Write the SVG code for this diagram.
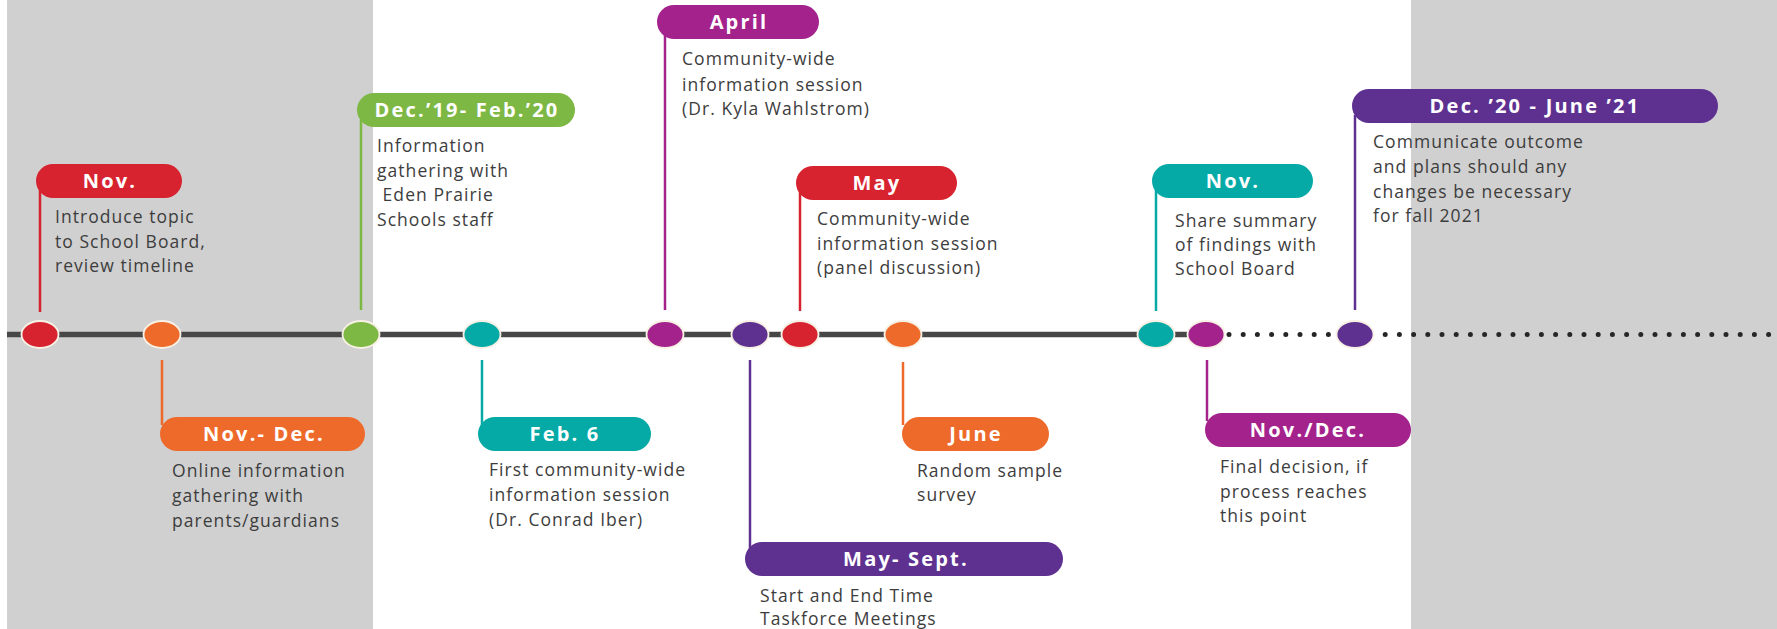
<svg xmlns="http://www.w3.org/2000/svg" width="1777" height="629" viewBox="0 0 1777 629">
<style>
.bg{fill:#d0d0d0}
.line{stroke:#474747;stroke-width:5.5;fill:none}
.dots{stroke:#262626;stroke-width:5;stroke-linecap:round;stroke-dasharray:0 14.2;fill:none}
.stem{stroke-width:2.5;fill:none}
.dot{stroke:#f7f0e4;stroke-width:1.8}
.pl{font-family:"Open Sans","Liberation Sans",sans-serif;font-weight:700;font-size:20px;fill:#fff;text-anchor:middle;letter-spacing:2.2px}
.ds{font-family:"Open Sans","Liberation Sans",sans-serif;font-size:17.5px;fill:#3d3d3d;letter-spacing:1.05px}
.red{fill:#d7232f}.s-red{stroke:#d7232f}
.org{fill:#ee6a2b}.s-org{stroke:#ee6a2b}
.grn{fill:#7db744}.s-grn{stroke:#7db744}
.teal{fill:#05aaa6}.s-teal{stroke:#05aaa6}
.mag{fill:#a4228c}.s-mag{stroke:#a4228c}
.pur{fill:#5e3191}.s-pur{stroke:#5e3191}
</style>
<rect width="1777" height="629" fill="#ffffff"/>
<rect class="bg" x="7" y="0" width="366" height="629"/>
<rect class="bg" x="1411" y="0" width="366" height="629"/>

<g id="connectors">
<line class="line" x1="7" y1="334.5" x2="1206" y2="334.5"/>
<line class="dots" x1="1229" y1="334.5" x2="1777" y2="334.5"/>
<line class="stem s-red" x1="40" y1="190" x2="40" y2="312"/>
<line class="stem s-org" x1="162" y1="360" x2="162" y2="425"/>
<line class="stem s-grn" x1="361" y1="120" x2="361" y2="310"/>
<line class="stem s-teal" x1="482" y1="360" x2="482" y2="425"/>
<line class="stem s-mag" x1="665" y1="30" x2="665" y2="310"/>
<line class="stem s-pur" x1="750" y1="360" x2="750" y2="550"/>
<line class="stem s-red" x1="800" y1="192" x2="800" y2="311"/>
<line class="stem s-org" x1="903" y1="362" x2="903" y2="425"/>
<line class="stem s-teal" x1="1156" y1="190" x2="1156" y2="311"/>
<line class="stem s-mag" x1="1207" y1="360" x2="1207" y2="421"/>
<line class="stem s-pur" x1="1355" y1="115" x2="1355" y2="310"/>
</g>

<g id="n1">
<ellipse class="dot red" cx="40" cy="334.5" rx="18.5" ry="13.5"/>
<rect class="red" x="36" y="164" width="146" height="34" rx="17"/>
<text class="pl" x="110" y="188">Nov.</text>
<text class="ds" x="55"><tspan x="55" y="223">Introduce topic</tspan><tspan x="55" y="247.5">to School Board,</tspan><tspan x="55" y="271.5">review timeline</tspan></text>
</g>

<g id="n2">
<ellipse class="dot org" cx="162" cy="334.5" rx="18.5" ry="13.5"/>
<rect class="org" x="160" y="417" width="205" height="34" rx="17"/>
<text class="pl" x="264" y="441">Nov.- Dec.</text>
<text class="ds" x="172"><tspan x="172" y="477">Online information</tspan><tspan x="172" y="502">gathering with</tspan><tspan x="172" y="527">parents/guardians</tspan></text>
</g>

<g id="n3">
<ellipse class="dot grn" cx="361" cy="334.5" rx="18.5" ry="13.5"/>
<rect class="grn" x="357" y="93" width="218" height="34" rx="17"/>
<text class="pl" x="467" y="117">Dec.’19- Feb.’20</text>
<text class="ds" x="377"><tspan x="377" y="152">Information</tspan><tspan x="377" y="176.5">gathering with</tspan><tspan x="377" y="201"> Eden Prairie</tspan><tspan x="377" y="225.5">Schools staff</tspan></text>
</g>

<g id="n4">
<ellipse class="dot teal" cx="482" cy="334.5" rx="18.5" ry="13.5"/>
<rect class="teal" x="478" y="417" width="173" height="34" rx="17"/>
<text class="pl" x="565" y="441">Feb. 6</text>
<text class="ds" x="489"><tspan x="489" y="476">First community-wide</tspan><tspan x="489" y="501">information session</tspan><tspan x="489" y="526">(Dr. Conrad Iber)</tspan></text>
</g>

<g id="n5">
<ellipse class="dot mag" cx="665" cy="334.5" rx="18.5" ry="13.5"/>
<rect class="mag" x="657" y="5" width="162" height="34" rx="17"/>
<text class="pl" x="739" y="29">April</text>
<text class="ds" x="682"><tspan x="682" y="65">Community-wide</tspan><tspan x="682" y="90.5">information session</tspan><tspan x="682" y="115">(Dr. Kyla Wahlstrom)</tspan></text>
</g>

<g id="n6">
<ellipse class="dot pur" cx="750" cy="334.5" rx="18.5" ry="13.5"/>
<rect class="pur" x="745" y="542" width="318" height="34" rx="17"/>
<text class="pl" x="906" y="566">May- Sept.</text>
<text class="ds" x="760"><tspan x="760" y="601.5">Start and End Time</tspan><tspan x="760" y="625">Taskforce Meetings</tspan></text>
</g>

<g id="n7">
<ellipse class="dot red" cx="800" cy="334.5" rx="18.5" ry="13.5"/>
<rect class="red" x="796" y="166" width="161" height="34" rx="17"/>
<text class="pl" x="877" y="190">May</text>
<text class="ds" x="817"><tspan x="817" y="225">Community-wide</tspan><tspan x="817" y="249.5">information session</tspan><tspan x="817" y="273.5">(panel discussion)</tspan></text>
</g>

<g id="n8">
<ellipse class="dot org" cx="903" cy="334.5" rx="18.5" ry="13.5"/>
<rect class="org" x="902" y="417" width="147" height="34" rx="17"/>
<text class="pl" x="976" y="441">June</text>
<text class="ds" x="917"><tspan x="917" y="477">Random sample</tspan><tspan x="917" y="501">survey</tspan></text>
</g>

<g id="n9">
<ellipse class="dot teal" cx="1156" cy="334.5" rx="18.5" ry="13.5"/>
<rect class="teal" x="1152" y="164" width="161" height="34" rx="17"/>
<text class="pl" x="1233" y="188">Nov.</text>
<text class="ds" x="1175"><tspan x="1175" y="227">Share summary</tspan><tspan x="1175" y="251">of findings with</tspan><tspan x="1175" y="275">School Board</tspan></text>
</g>

<g id="n10">
<ellipse class="dot mag" cx="1206" cy="334.5" rx="18.5" ry="13.5"/>
<rect class="mag" x="1205" y="413" width="206" height="34" rx="17"/>
<text class="pl" x="1308" y="437">Nov./Dec.</text>
<text class="ds" x="1220"><tspan x="1220" y="473">Final decision, if</tspan><tspan x="1220" y="497.5">process reaches</tspan><tspan x="1220" y="522">this point</tspan></text>
</g>

<g id="n11">
<ellipse class="dot pur" cx="1355" cy="334.5" rx="18.5" ry="13.5"/>
<rect class="pur" x="1352" y="89" width="366" height="34" rx="17"/>
<text class="pl" x="1535" y="113">Dec. ’20 - June ’21</text>
<text class="ds" x="1373"><tspan x="1373" y="148">Communicate outcome</tspan><tspan x="1373" y="173">and plans should any</tspan><tspan x="1373" y="197.5">changes be necessary</tspan><tspan x="1373" y="222">for fall 2021</tspan></text>
</g>
</svg>
